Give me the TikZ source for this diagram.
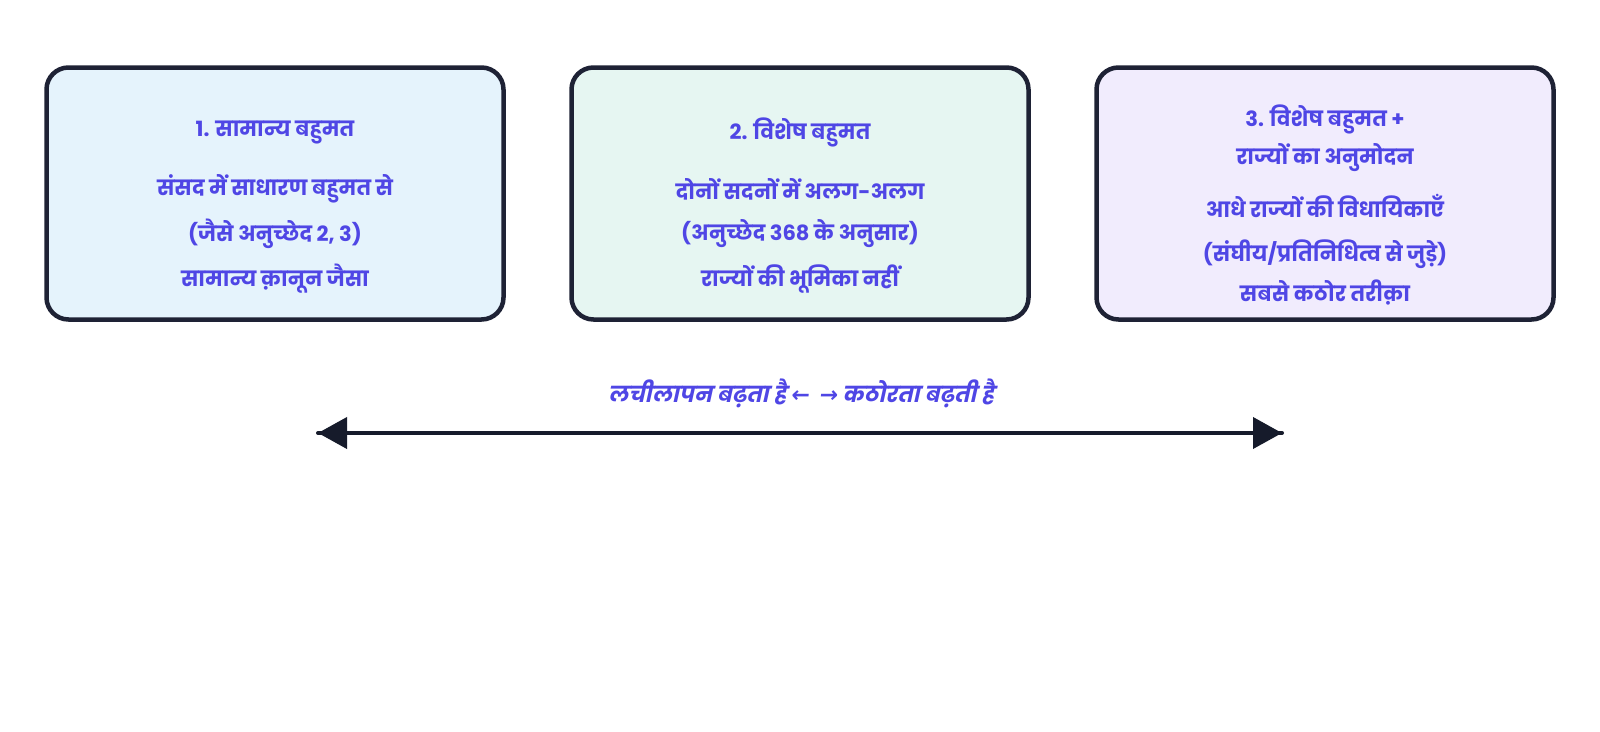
\documentclass[tikz,border=0pt]{standalone}
\usepackage{fontspec}
\setmainfont{Poppins}
\newfontfamily\hindi[Script=Devanagari]{Poppins}
\newfontfamily\hindisl[Script=Devanagari,FakeSlant=0.22]{Poppins}
\newfontfamily\symf[FakeSlant=0.1]{DejaVu Sans}
\usetikzlibrary{arrows.meta}
\definecolor{txt}{HTML}{4F46E5}
\definecolor{edge}{HTML}{1E2235}
\definecolor{fa}{HTML}{E5F3FC}
\definecolor{fb}{HTML}{E6F6F2}
\definecolor{fc}{HTML}{F1ECFD}
\definecolor{arr}{HTML}{161B2B}
\tikzset{
  card/.style={draw=edge, line width=4.5pt, rounded corners=22pt, minimum width=457pt, minimum height=252pt, inner sep=0pt},
  lbl/.style={text=txt, font=\hindi\bfseries\fontsize{21}{25}\selectfont, inner sep=0pt, anchor=center},
  axislbl/.style={text=txt, font=\hindisl\bfseries\fontsize{22}{26}\selectfont, inner sep=0pt, anchor=center},
  axis/.style={draw=arr, line width=4pt, {Triangle[length=29pt,width=31pt]}-{Triangle[length=29pt,width=31pt]}},
  axisline/.style={draw=arr, line width=4pt, line cap=round},
}
\begin{document}
\begin{tikzpicture}[x=1pt,y=-1pt]
\useasboundingbox[fill=white] (0,0) rectangle (1600,731);
\node[card, fill=fa] (b1) at (275,193.5) {};
\node[card, fill=fb] (b2) at (800,193.5) {};
\node[card, fill=fc] (b3) at (1325,193.5) {};
% box 1
\node[lbl] (t1) at (275,133) {1. सामान्य बहुमत};
\node[lbl] (t1a) at (275,189) {संसद में साधारण बहुमत से};
\node[lbl] (t1b) at (275,234) {(जैसे अनुच्छेद 2, 3)};
\node[lbl] (t1c) at (275,279) {सामान्य क़ानून जैसा};
% box 2
\node[lbl] (t2) at (800,132) {2. विशेष बहुमत};
\node[lbl] (t2a) at (800,189) {दोनों सदनों में अलग-अलग};
\node[lbl] (t2b) at (800,234) {(अनुच्छेद 368 के अनुसार)};
\node[lbl] (t2c) at (800,279) {राज्यों की भूमिका नहीं};
% box 3
\node[lbl] (t3) at (1325,119) {3. विशेष बहुमत +};
\node[lbl] (t3x) at (1325,158) {राज्यों का अनुमोदन};
\node[lbl] (t3a) at (1325,206) {आधे राज्यों की विधायिकाएँ};
\node[lbl] (t3b) at (1325,254) {(संघीय/प्रतिनिधित्व से जुड़े)};
\node[lbl] (t3c) at (1325,293) {सबसे कठोर तरीक़ा};
% axis
\node[axislbl] (ax) at (801,393) {लचीलापन बढ़ता है {\symf ←}\hspace{0.45em}{\symf →} कठोरता बढ़ती है};
\coordinate (al) at (318,433);
\coordinate (ar) at (1282,433);
\draw[axisline] (al) -- (ar);
\draw[axis] (al) -- (ar);
\end{tikzpicture}
\end{document}
